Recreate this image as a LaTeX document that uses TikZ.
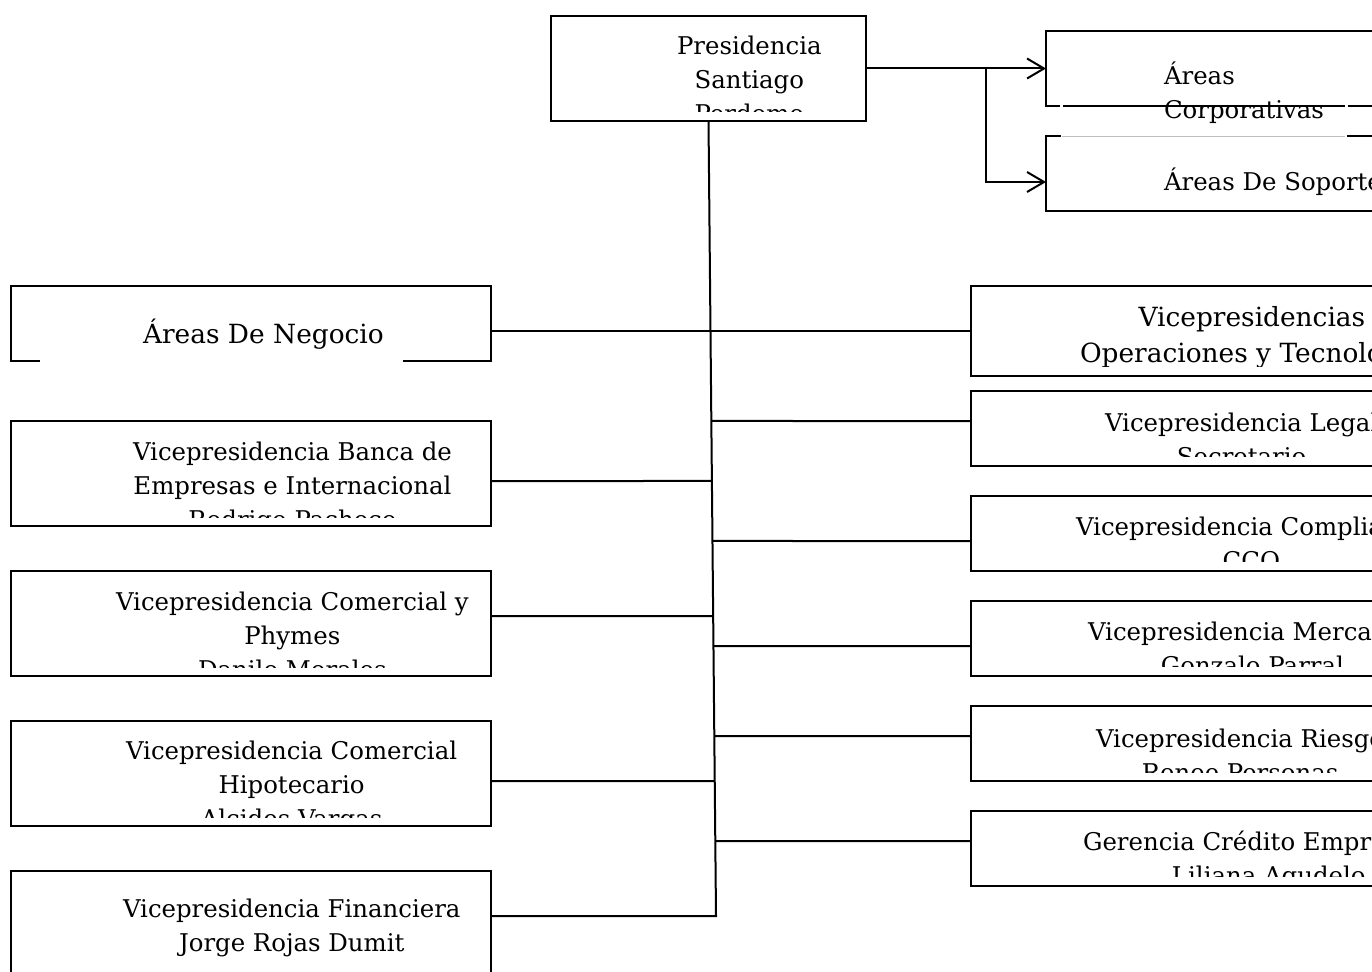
\documentclass[tikz,border=0pt]{standalone}
\usepackage{fontspec}
\setmainfont{DejaVu Serif}
\usetikzlibrary{arrows.meta,calc}
% stacked lines of a box; the baseline is that of the first line
\newcommand\boxlines[2][c]{\begin{tabular}[t]{@{}#1@{}}#2\end{tabular}}
\begin{document}
\begin{tikzpicture}[x=1pt,y=-1pt,
  box/.style={draw, line width=2pt, rectangle, inner sep=0pt, outer sep=0pt},
  boxtext/.style={anchor=base west, inner sep=0pt, outer sep=0pt,
                  font=\fontsize{24.4pt}{34pt}\selectfont},
  bigtext/.style={boxtext, font=\fontsize{26.4pt}{36pt}\selectfont},
  wire/.style={line width=2pt},
  arr/.style={line width=2pt,
              -{Straight Barb[length=17pt,width=20pt,line width=2pt]}}]

\useasboundingbox (0,0) rectangle (1372,971);
\fill[white] (0,0) rectangle (1372,971);
\clip (0,0) rectangle (1372,971);

% ---------- boxes ----------
\node[box, minimum width=315pt, minimum height=105pt] (pres)  at (708.5,68.5) {};
\node[box, minimum width=480pt, minimum height=75pt]  (corp)  at (1286,68.5)  {};
\node[box, minimum width=480pt, minimum height=75pt]  (sop)   at (1286,173.5) {};

\node[box, minimum width=480pt, minimum height=75pt]  (neg)   at (251,323.5) {};
\node[box, minimum width=480pt, minimum height=105pt] (banca) at (251,473.5) {};
\node[box, minimum width=480pt, minimum height=105pt] (phy)   at (251,623.5) {};
\node[box, minimum width=480pt, minimum height=105pt] (hip)   at (251,773.5) {};
\node[box, minimum width=480pt, minimum height=105pt] (fin)   at (251,923.5) {};

\node[box, minimum width=480pt, minimum height=90pt]  (ops)   at (1211,331)   {};
\node[box, minimum width=480pt, minimum height=75pt]  (legal) at (1211,428.5) {};
\node[box, minimum width=480pt, minimum height=75pt]  (comp)  at (1211,533.5) {};
\node[box, minimum width=480pt, minimum height=75pt]  (merc)  at (1211,638.5) {};
\node[box, minimum width=480pt, minimum height=75pt]  (ries)  at (1211,743.5) {};
\node[box, minimum width=480pt, minimum height=75pt]  (ger)   at (1211,848.5) {};

% white text frames cutting into some borders
\draw[white, line width=2.8pt] (40,361) -- (403,361);
\fill[white] (1059.5,104) rectangle (1062.5,108);
\fill[white] (1345,104) rectangle (1348,108);
\draw[white, line width=2.8pt] (1061,136) -- (1346.5,136);
\draw[black!25, line width=0.8pt] (1062,136) -- (1345,136);

% ---------- texts ----------
\begin{scope}
  \clip (pres.north west) rectangle (pres.east |- 0,112);
  \node[boxtext] (presT) at (677,55) {\boxlines{Presidencia\\Santiago\\Perdomo}};
\end{scope}
\node[boxtext] (corpT) at (1164,85)  {\boxlines[l]{Áreas\\Corporativas}};
\node[boxtext] (sopT)  at (1164,190) {Áreas De Soporte};
\node[bigtext] (negT)  at (143,343)  {Áreas De Negocio};

\begin{scope}
  \clip (banca.north west) rectangle (banca.east |- 0,517);
  \node[boxtext] (bancaT) at (133,460)
    {\boxlines{Vicepresidencia Banca de\\Empresas e Internacional\\Rodrigo Pacheco}};
\end{scope}
\begin{scope}
  \clip (phy.north west) rectangle (phy.east |- 0,667);
  \node[boxtext] (phyT) at (116,610)
    {\boxlines{Vicepresidencia Comercial y\\Phymes\\Danilo Morales}};
\end{scope}
\begin{scope}
  \clip (hip.north west) rectangle (hip.east |- 0,817);
  \node[boxtext] (hipT) at (126,759)
    {\boxlines{Vicepresidencia Comercial\\Hipotecario\\Alcides Vargas}};
\end{scope}
\node[boxtext] (finT) at (123,917)
  {\boxlines{Vicepresidencia Financiera\\Jorge Rojas Dumit}};

\begin{scope}
  \clip (ops.north west) rectangle (ops.east |- 0,366);
  \node[bigtext] (opsT) at (1080,326)
    {\boxlines{Vicepresidencias\\Operaciones y Tecnología}};
\end{scope}
\begin{scope}
  \clip (legal.north west) rectangle (legal.east |- 0,456);
  \node[boxtext] (legalT) at (1105,431)
    {\boxlines{Vicepresidencia Legal\\Secretario}};
\end{scope}
\begin{scope}
  \clip (comp.north west) rectangle (comp.east |- 0,561);
  \node[boxtext] (compT) at (1076,535)
    {\boxlines{Vicepresidencia Compliance\\CCO}};
\end{scope}
\begin{scope}
  \clip (merc.north west) rectangle (merc.east |- 0,666);
  \node[boxtext] (mercT) at (1088,640)
    {\boxlines{Vicepresidencia Mercadeo\\Gonzalo Parral}};
\end{scope}
\begin{scope}
  \clip (ries.north west) rectangle (ries.east |- 0,772);
  \node[boxtext] (riesT) at (1096,747)
    {\boxlines{Vicepresidencia Riesgo\\Renee Personas}};
\end{scope}
\begin{scope}
  \clip (ger.north west) rectangle (ger.east |- 0,876);
  \node[boxtext] (gerT) at (1083,850)
    {\boxlines{Gerencia Crédito Empresarial\\Liliana Agudelo}};
\end{scope}

% ---------- connectors ----------
% arrows to the corporate and support areas
\coordinate (split) at ($(pres.east)!0.667!(corp.west)$);
\draw[arr] (pres.east) -- (corp.west);
\draw[arr] (split) |- (sop.west |- 0,182);

% main trunk, slightly slanted, ending at the finance branch
\coordinate (tbot) at (716,916);
\draw[wire] (pres.south) -- (tbot) -- (fin.east |- 0,916);

% points along the trunk
\foreach \yy in {421,481,541,616,646,736,781,841}
  \coordinate (t\yy) at ($(pres.south)!{(\yy-121)/795}!(tbot)$);

% business areas line crossing the trunk
\draw[wire] (neg.east |- 0,331) -- (ops.west);

% left branches
\draw[wire] (banca.east |- 0,481) -- (t481);
\draw[wire] (phy.east |- 0,616) -- (t616);
\draw[wire] (hip.east |- 0,781) -- (t781);

% right branches
\draw[wire] (t421) -- (legal.west |- 0,421);
\draw[wire] (t541) -- (comp.west |- 0,541);
\draw[wire] (t646) -- (merc.west |- 0,646);
\draw[wire] (t736) -- (ries.west |- 0,736);
\draw[wire] (t841) -- (ger.west |- 0,841);
\end{tikzpicture}
\end{document}
